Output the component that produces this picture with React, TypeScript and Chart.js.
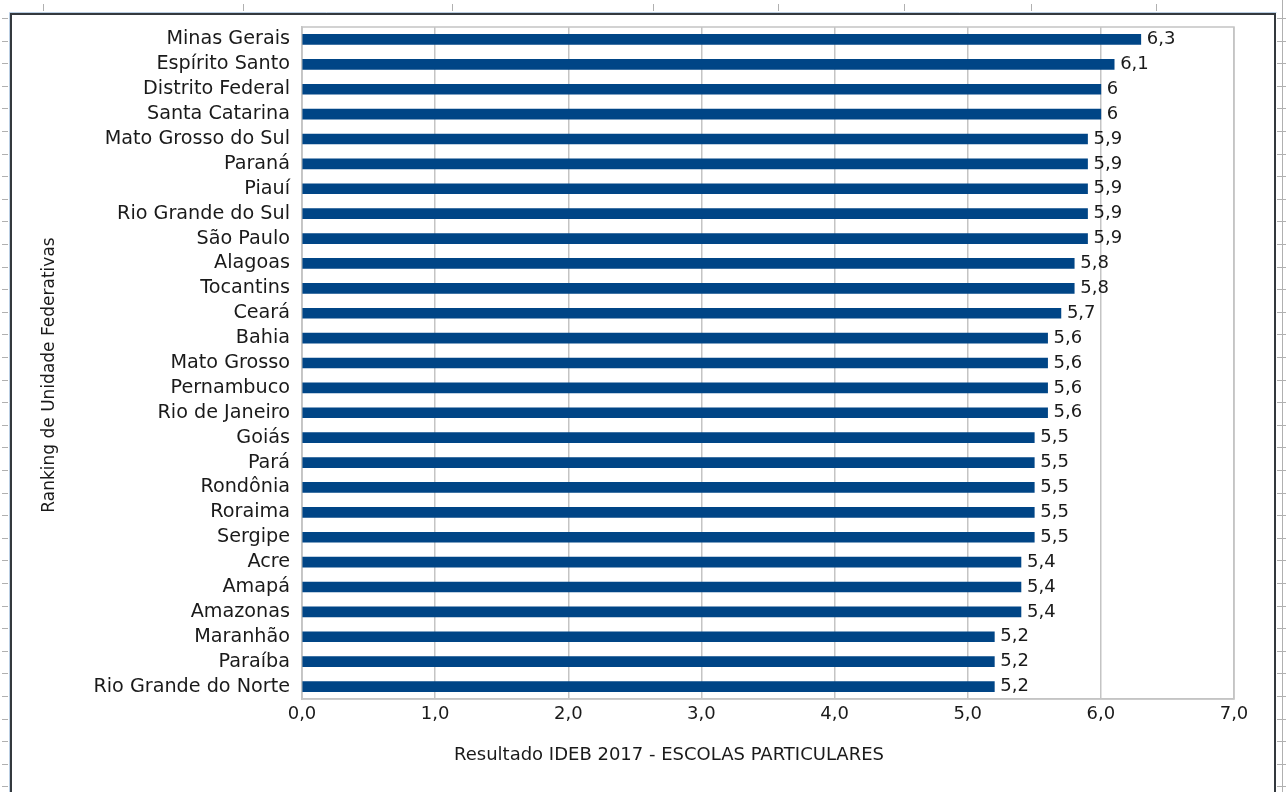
import React, { useEffect, useRef } from "react";
import { Chart, registerables } from "chart.js";

Chart.register(...registerables);

const states = [
  "Minas Gerais",
  "Espírito Santo",
  "Distrito Federal",
  "Santa Catarina",
  "Mato Grosso do Sul",
  "Paraná",
  "Piauí",
  "Rio Grande do Sul",
  "São Paulo",
  "Alagoas",
  "Tocantins",
  "Ceará",
  "Bahia",
  "Mato Grosso",
  "Pernambuco",
  "Rio de Janeiro",
  "Goiás",
  "Pará",
  "Rondônia",
  "Roraima",
  "Sergipe",
  "Acre",
  "Amapá",
  "Amazonas",
  "Maranhão",
  "Paraíba",
  "Rio Grande do Norte",
];

const idebScores = [
  6.3, 6.1, 6, 6, 5.9, 5.9, 5.9, 5.9, 5.9, 5.8, 5.8, 5.7, 5.6, 5.6, 5.6, 5.6,
  5.5, 5.5, 5.5, 5.5, 5.5, 5.4, 5.4, 5.4, 5.2, 5.2, 5.2,
];

const xTickValues = [0, 1, 2, 3, 4, 5, 6, 7];

const xTitle = "Resultado IDEB 2017 - ESCOLAS PARTICULARES";
const yTitle = "Ranking de Unidade Federativas";

const FONT = "'DejaVu Sans', sans-serif";
const TEXT = "#1a1a1a";
const GRID = "#c4c4c4";

const fmtComma = (v: number) => String(v).replace(".", ",");

// Page frame with ruler marks around the chart
const framePlugin = {
  id: "frame",
  beforeDraw(chart: any) {
    const ctx = chart.ctx as CanvasRenderingContext2D;
    const W = chart.width;
    const H = chart.height;
    ctx.save();
    ctx.fillStyle = "#ffffff";
    ctx.fillRect(0, 0, W, H);

    ctx.strokeStyle = "#b0b0b0";
    ctx.lineWidth = 1;
    for (let k = 0; k < 35; k++) {
      const y = Math.round(18 + k * 22.6) + 0.5;
      ctx.beginPath();
      ctx.moveTo(2, y);
      ctx.lineTo(8, y);
      ctx.stroke();
      ctx.beginPath();
      ctx.moveTo(1277, y);
      ctx.lineTo(1286, y);
      ctx.stroke();
    }
    [43, 243, 452, 653, 778, 904, 1031, 1156].forEach((x) => {
      ctx.beginPath();
      ctx.moveTo(x + 0.5, 4);
      ctx.lineTo(x + 0.5, 11);
      ctx.stroke();
    });
    ctx.beginPath();
    ctx.moveTo(1282.5, 0);
    ctx.lineTo(1282.5, H);
    ctx.stroke();

    // soft blue edge
    ctx.strokeStyle = "#b9cde2";
    ctx.lineWidth = 1;
    ctx.beginPath();
    ctx.moveTo(9.5, H);
    ctx.lineTo(9.5, 12.5);
    ctx.lineTo(1276.5, 12.5);
    ctx.stroke();
    // dark frame
    ctx.strokeStyle = "#34393e";
    ctx.lineWidth = 2;
    ctx.beginPath();
    ctx.moveTo(11, H);
    ctx.lineTo(11, 14);
    ctx.lineTo(1275, 14);
    ctx.lineTo(1275, H);
    ctx.stroke();
    ctx.restore();
  },
};

// Plot box outline, value labels and axis titles
const decorPlugin = {
  id: "decor",
  beforeDatasetsDraw(chart: any) {
    const { ctx, chartArea } = chart;
    ctx.save();
    ctx.strokeStyle = GRID;
    ctx.lineWidth = 1.5;
    ctx.strokeRect(
      chartArea.left,
      chartArea.top,
      chartArea.right - chartArea.left,
      chartArea.bottom - chartArea.top
    );
    ctx.restore();
  },
  afterDatasetsDraw(chart: any) {
    const ctx = chart.ctx as CanvasRenderingContext2D;
    const meta = chart.getDatasetMeta(0);
    ctx.save();
    ctx.fillStyle = TEXT;
    ctx.font = `18px ${FONT}`;
    ctx.textAlign = "left";
    ctx.textBaseline = "middle";
    meta.data.forEach((bar: any, i: number) => {
      ctx.fillText(fmtComma(idebScores[i]), bar.x + 6, bar.y);
    });

    ctx.font = `18px ${FONT}`;
    ctx.textAlign = "center";
    ctx.fillText(xTitle, 669, 755);

    ctx.font = `17px ${FONT}`;
    ctx.translate(50, 375);
    ctx.rotate(-Math.PI / 2);
    ctx.fillText(yTitle, 0, 0);
    ctx.restore();
  },
};

export default function App() {
  const canvasRef = useRef<HTMLCanvasElement | null>(null);

  useEffect(() => {
    if (!canvasRef.current) return;
    const chart = new Chart(canvasRef.current, {
      type: "bar",
      data: {
        labels: states,
        datasets: [
          {
            data: idebScores,
            backgroundColor: "#004586",
            borderWidth: 0,
            barThickness: 10,
          },
        ],
      },
      options: {
        indexAxis: "y",
        animation: false,
        responsive: false,
        devicePixelRatio: 1,
        layout: { padding: { left: 0, top: 27, right: 52, bottom: 0 } },
        plugins: {
          legend: { display: false },
          tooltip: { enabled: false },
        },
        scales: {
          x: {
            type: "linear",
            min: xTickValues[0],
            max: xTickValues[xTickValues.length - 1],
            afterBuildTicks: (scale: any) => {
              scale.ticks = xTickValues.map((v) => ({ value: v }));
            },
            afterFit: (scale: any) => {
              scale.height = 93;
            },
            ticks: {
              padding: 5,
              color: TEXT,
              font: { family: FONT, size: 18 },
              callback: (v: any) => Number(v).toFixed(1).replace(".", ","),
            },
            grid: {
              color: GRID,
              lineWidth: 1.5,
              drawTicks: false,
              tickLength: 0,
            },
            border: { display: true, color: GRID, width: 1.5 },
          },
          y: {
            type: "category",
            afterFit: (scale: any) => {
              scale.width = 302;
            },
            ticks: {
              padding: 12,
              color: TEXT,
              font: { family: FONT, size: 19.2 },
              autoSkip: false,
            },
            grid: { display: false, drawTicks: false, tickLength: 0 },
            border: { display: true, color: GRID, width: 1.5 },
          },
        },
      },
      plugins: [framePlugin, decorPlugin],
    });
    return () => chart.destroy();
  }, []);

  return (
    <div style={{ position: "fixed", left: 0, top: 0, width: 1286, height: 792 }}>
      <canvas ref={canvasRef} width={1286} height={792} />
    </div>
  );
}
